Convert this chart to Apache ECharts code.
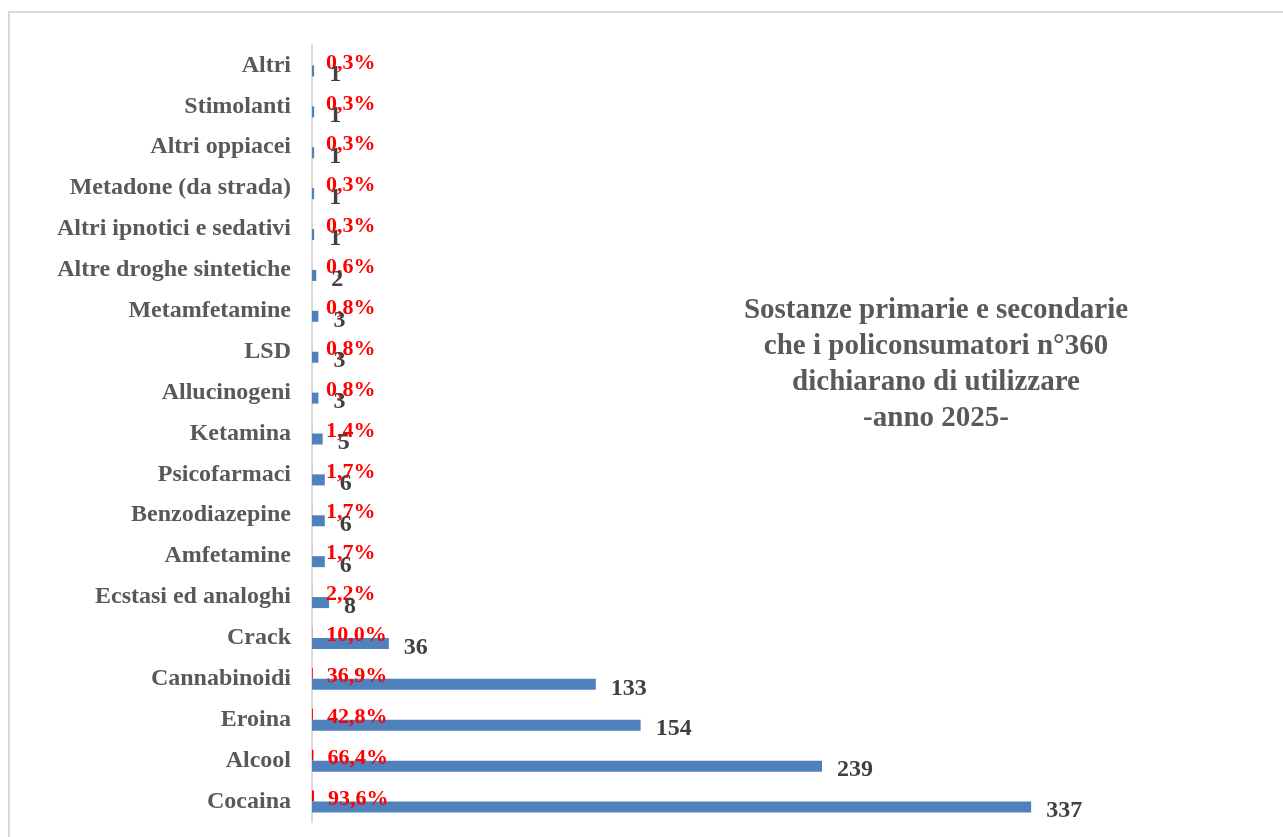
<!DOCTYPE html>
<html>
<head>
<meta charset="utf-8">
<script src="https://cdn.jsdelivr.net/npm/echarts@6/dist/echarts.min.js"></script>
<style>html,body{margin:0;padding:0;background:#fff}#c{width:1283px;height:837px}</style>
</head>
<body>
<div id="c"></div>
<script>
const categories = ["Cocaina","Alcool","Eroina","Cannabinoidi","Crack","Ecstasi ed analoghi","Amfetamine","Benzodiazepine","Psicofarmaci","Ketamina","Allucinogeni","LSD","Metamfetamine","Altre droghe sintetiche","Altri ipnotici e sedativi","Metadone (da strada)","Altri oppiacei","Stimolanti","Altri"];
const counts = [337,239,154,133,36,8,6,6,6,5,3,3,3,2,1,1,1,1,1];
const percents = [93.6,66.4,42.8,36.9,10.0,2.2,1.7,1.7,1.7,1.4,0.8,0.8,0.8,0.6,0.3,0.3,0.3,0.3,0.3];
const titleLines = ["Sostanze primarie e secondarie","che i policonsumatori n°360","dichiarano di utilizzare","-anno 2025-"];

const font = "'Liberation Serif','Times New Roman',serif";
const chart = echarts.init(document.getElementById('c'));
chart.setOption({
  animation: false,
  title: {
    text: titleLines.join('\n'),
    left: 931, top: 288, textAlign: 'center',
    textStyle: {fontFamily: font, fontWeight: 'bold', fontSize: 29, color: '#595959', lineHeight: 36, align: 'center'}
  },
  graphic: [{type: 'rect', shape: {x: 9, y: 12, width: 1290, height: 850}, style: {fill: 'none', stroke: '#d9d9d9', lineWidth: 2}, silent: true}],
  grid: {left: 312, top: 45, bottom: 15, width: 853.6, containLabel: false},
  xAxis: {type: 'value', min: 0, max: 400, show: false},
  yAxis: {
    type: 'category', data: categories,
    axisLine: {show: true, lineStyle: {color: '#d9d9d9', width: 2}},
    axisTick: {show: false},
    axisLabel: {fontFamily: font, fontWeight: 'bold', fontSize: 24, color: '#595959', margin: 21}
  },
  series: [
    {
      type: 'bar', name: '%', data: percents.map(p => p / 100), barWidth: 11, barGap: '0%',
      itemStyle: {color: '#ff0000'},
      label: {show: true, position: 'right', distance: 14, offset: [0, 3], fontFamily: font, fontWeight: 'bold', fontSize: 22, color: '#ff0000',
        formatter: p => percents[p.dataIndex].toFixed(1).replace('.', ',') + '%'}
    },
    {
      type: 'bar', name: 'N', data: counts, barWidth: 11,
      itemStyle: {color: '#4f81bd'},
      label: {show: true, position: 'right', distance: 15, offset: [0, 4], fontFamily: font, fontWeight: 'bold', fontSize: 24, color: '#404040'}
    }
  ]
});
</script>
</body>
</html>
